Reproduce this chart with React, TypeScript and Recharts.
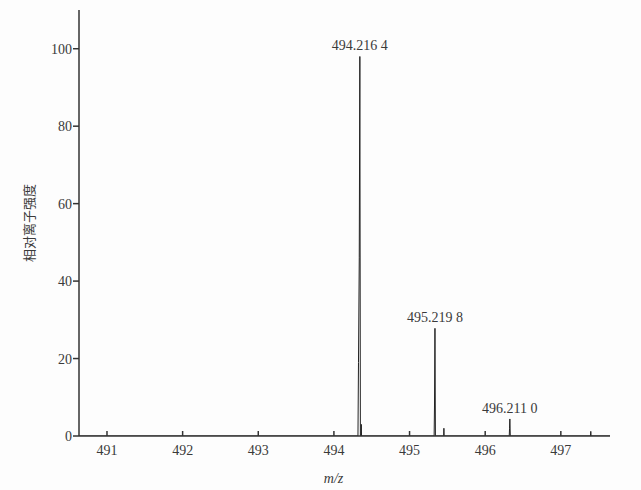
import React from 'react';
import { LineChart, Line, XAxis, YAxis, ReferenceDot, Label } from 'recharts';

// m/z sample points and relative intensities (profile spectrum)
const mzValues = [
  490.63, 494.318, 494.325, 494.335, 494.343, 494.35, 494.359, 494.362, 494.365,
  495.325, 495.330, 495.336, 495.342,
  495.451, 495.454, 495.457,
  496.318, 496.322, 496.326, 496.332,
  497.393, 497.396, 497.399, 497.65,
];
const intensities = [
  0, 0, 19, 46, 98, 0, 0, 3, 0,
  0, 8, 27.8, 0,
  0, 2, 0,
  0, 2, 4.4, 0,
  0, 1.2, 0, 0,
];

const peakMz = [494.343, 495.336, 496.326];
const peakIntensity = [98, 27.8, 4.4];
const peakLabels = ['494.216 4', '495.219 8', '496.211 0'];

const xTicks = [491, 492, 493, 494, 495, 496, 497];
const yTicks = [0, 20, 40, 60, 80, 100];

const data = mzValues.map((mz, i) => ({ mz, intensity: intensities[i] }));

const FONT = 'Liberation Serif, Times New Roman, serif';
const AXIS = '#333';
const TEXT = '#3a3a3a';

export default function App() {
  return (
    <div style={{ position: 'absolute', left: 0, top: 0, width: 641, height: 490, background: '#fdfdfd', fontFamily: FONT }}>
      <LineChart width={641} height={490} data={data} margin={{ top: 10, right: 31, bottom: 0, left: 0 }} style={{ fontFamily: FONT }}>
        <XAxis
          dataKey="mz"
          type="number"
          domain={[490.63, 497.65]}
          ticks={xTicks}
          allowDataOverflow
          height={54}
          tickSize={-5}
          tickMargin={14}
          stroke={AXIS}
          strokeWidth={1.5}
          tick={{ fill: TEXT, fontSize: 14, fontFamily: FONT, style: { fontFamily: FONT } }}
        >
          <Label
            content={({ viewBox }: any) => (
              <text
                x={viewBox.x + viewBox.width / 2 - 11}
                y={viewBox.y + viewBox.height - 7}
                textAnchor="middle"
                style={{ fontFamily: FONT, fontStyle: 'italic' }}
                fontSize={14}
                fill={TEXT}
              >
                m/z
              </text>
            )}
          />
        </XAxis>
        <YAxis
          type="number"
          domain={[0, 110]}
          ticks={yTicks}
          allowDataOverflow
          width={79}
          tickSize={6}
          tickMargin={1}
          stroke={AXIS}
          strokeWidth={1.5}
          tick={{ fill: TEXT, fontSize: 14, fontFamily: FONT, style: { fontFamily: FONT } }}
        >
          <Label
            content={({ viewBox }: any) => {
              const cx = viewBox.x + 28;
              const cy = viewBox.y + viewBox.height / 2;
              return (
                <text
                  transform={`translate(${cx},${cy}) rotate(-90)`}
                  textAnchor="middle"
                  dominantBaseline="central"
                  style={{ fontFamily: 'Noto Sans CJK SC, sans-serif' }}
                  fontSize={13}
                  fill={TEXT}
                >
                  相对离子强度
                </text>
              );
            }}
          />
        </YAxis>
        <Line
          type="linear"
          dataKey="intensity"
          stroke="#222"
          strokeWidth={1}
          dot={false}
          isAnimationActive={false}
        />
        {peakMz.map((mz, i) => (
          <ReferenceDot
            key={i}
            x={mz}
            y={peakIntensity[i]}
            r={0}
            fill="none"
            stroke="none"
            label={{
              value: peakLabels[i],
              position: 'top',
              offset: 6,
              fill: TEXT,
              fontSize: 14,
              fontFamily: FONT,
              style: { fontFamily: FONT },
            }}
          />
        ))}
      </LineChart>
    </div>
  );
}
